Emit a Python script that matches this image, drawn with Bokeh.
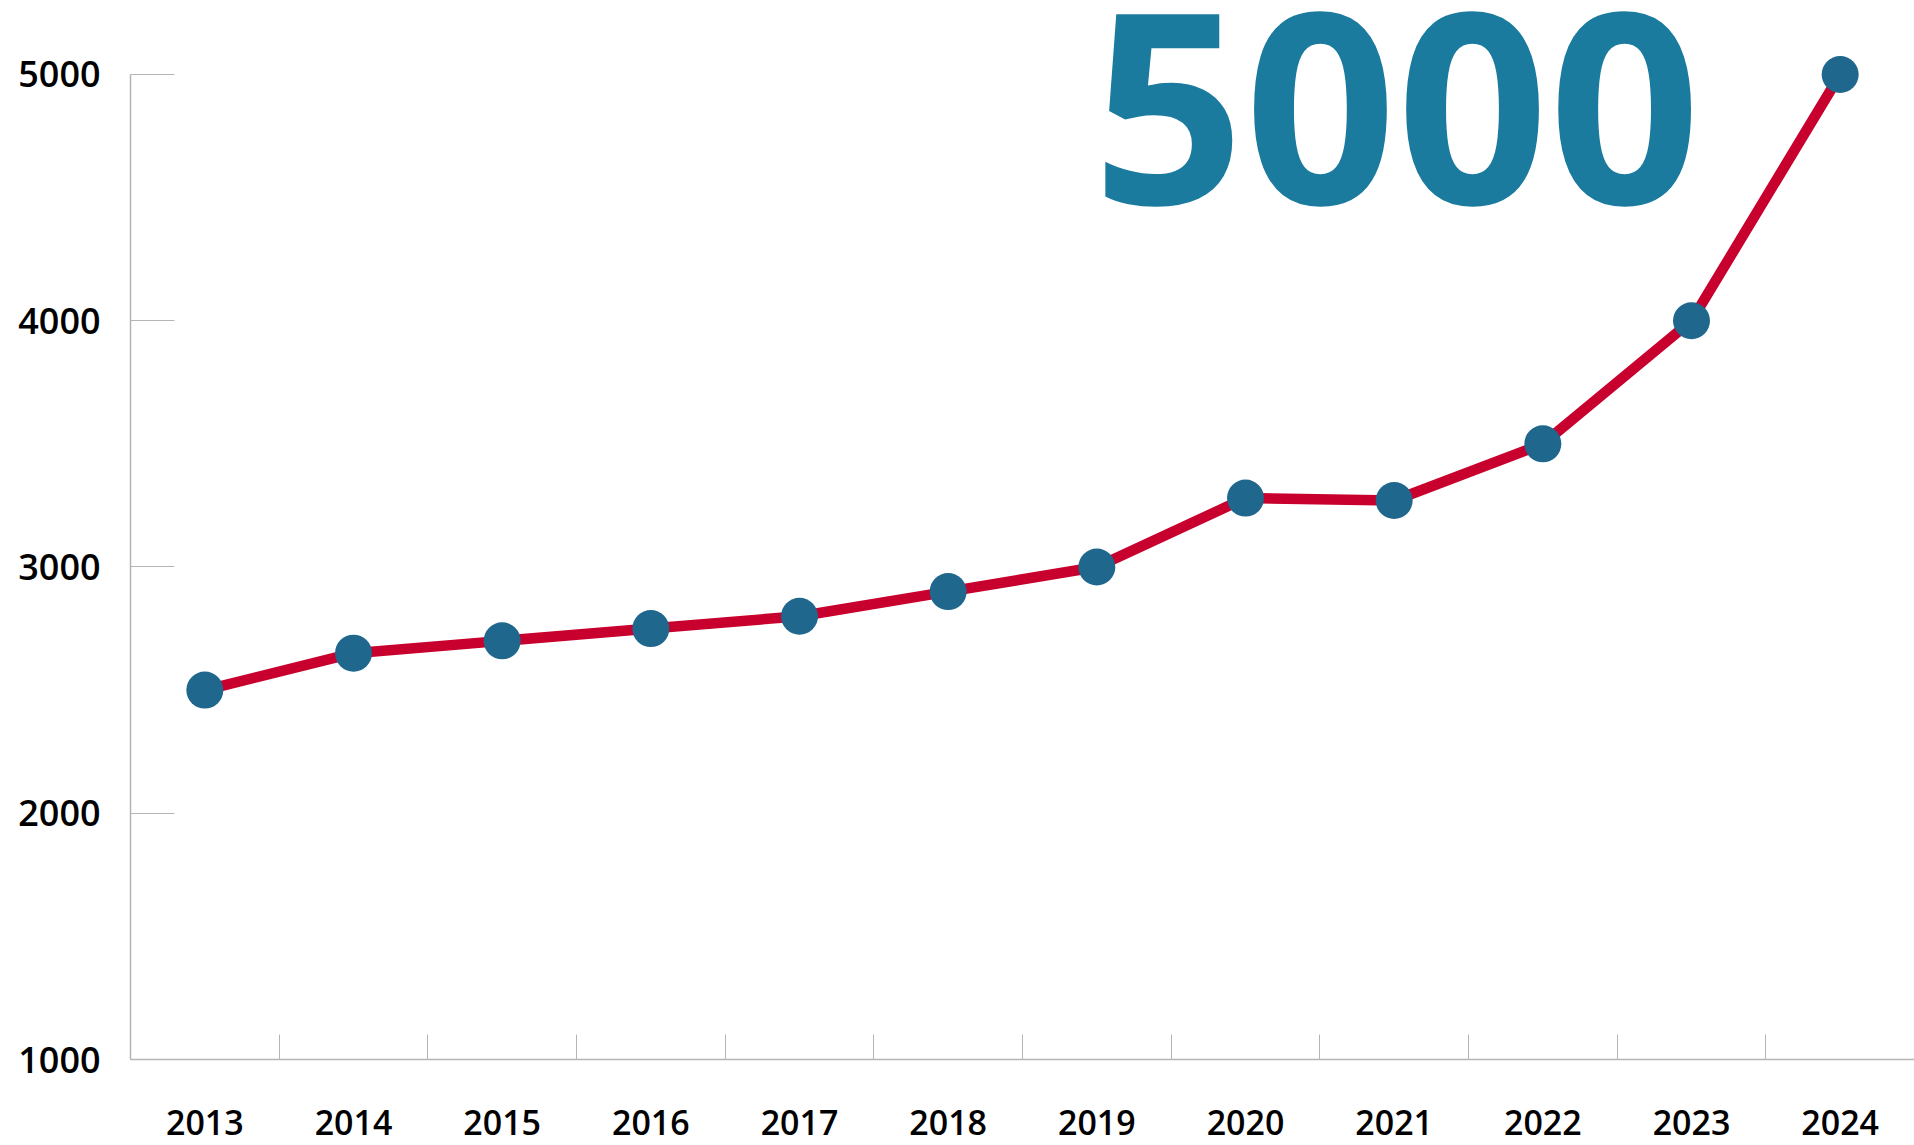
from bokeh.plotting import figure
from bokeh.models import Range1d, FixedTicker, Label, ColumnDataSource
from bokeh.embed import file_html
from bokeh.resources import INLINE

years = [2013, 2014, 2015, 2016, 2017, 2018, 2019, 2020, 2021, 2022, 2023, 2024]
values = [2500, 2650, 2700, 2750, 2800, 2900, 3000, 3280, 3270, 3500, 4000, 5000]
year_labels = ["2013", "2014", "2015", "2016", "2017", "2018", "2019", "2020",
               "2021", "2022", "2023", "2024"]
y_ticks = [1000, 2000, 3000, 4000, 5000]
y_labels = ["1000", "2000", "3000", "4000", "5000"]
headline = "5000"

LINE = "#C8002D"
DOT = "#1F678C"
BIG = "#1B7B9E"
AXIS = "#B5B5B5"
FONT = "Open Sans"
TICK_FONT = "'Open Sans SemiBold', 'Open Sans'"

src = ColumnDataSource(dict(x=years, y=values))

p = figure(width=1914, height=1145, output_backend="svg", toolbar_location=None,
           x_range=Range1d(years[0] - 0.5, years[-1] + 0.5),
           y_range=Range1d(1000, 5300.5),
           min_border_left=130, min_border_right=0,
           min_border_top=0, min_border_bottom=86)
p.outline_line_color = None
p.xgrid.visible = False
p.ygrid.visible = False
p.background_fill_color = "white"
p.border_fill_color = "white"

p.line("x", "y", source=src, line_color=LINE, line_width=10.5)
p.scatter("x", "y", source=src, size=37, fill_color=DOT, line_color=None)

# x axis
xa = p.xaxis[0]
xa.ticker = FixedTicker(ticks=years, minor_ticks=[y + 0.5 for y in years[:-1]])
xa.major_label_overrides = {y: s for y, s in zip(years, year_labels)}
xa.major_tick_in = 0
xa.major_tick_out = 0
xa.minor_tick_in = 25
xa.minor_tick_out = 0
xa.minor_tick_line_color = AXIS
xa.axis_line_color = AXIS
xa.axis_line_width = 1.5
xa.major_label_standoff = 50
xa.major_label_text_font = TICK_FONT
xa.major_label_text_font_size = "34px"
xa.major_label_text_font_style = "normal"
xa.major_label_text_color = "#000000"

# y axis
ya = p.yaxis[0]
ya.ticker = FixedTicker(ticks=y_ticks, minor_ticks=[])
ya.major_label_overrides = {t: s for t, s in zip(y_ticks, y_labels)}
ya.bounds = (y_ticks[0], y_ticks[-1])
ya.major_tick_in = 44
ya.major_tick_out = 0
ya.major_tick_line_color = AXIS
ya.axis_line_color = AXIS
ya.axis_line_width = 1.5
ya.major_label_standoff = 30
ya.major_label_text_font = TICK_FONT
ya.major_label_text_font_size = "36px"
ya.major_label_text_font_style = "normal"
ya.major_label_text_color = "#000000"

big = Label(x=2018.97, y=4862, text=headline, text_font=FONT,
            text_font_size="266px", text_font_style="bold", text_color=BIG,
            text_align="left", text_baseline="alphabetic")
p.add_layout(big)

open("out.html", "w").write(file_html(p, INLINE))
